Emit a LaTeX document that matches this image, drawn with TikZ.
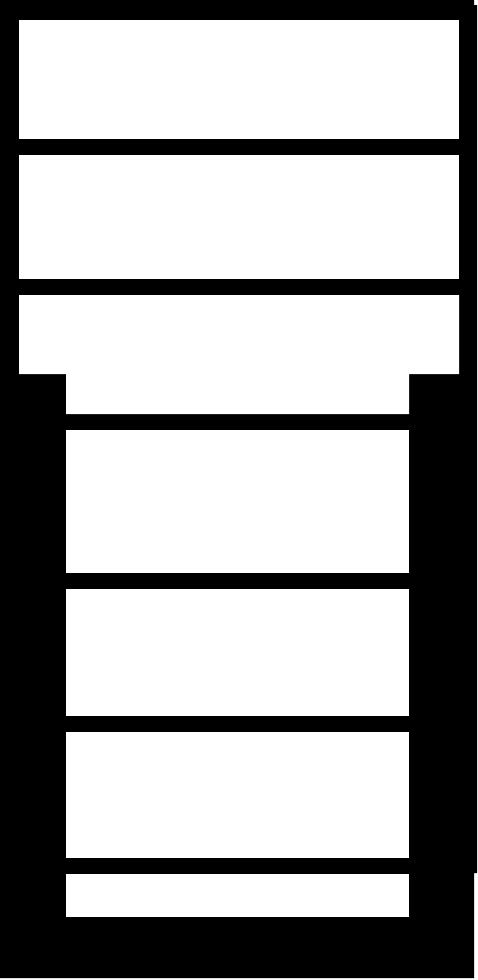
\documentclass[tikz,border=0pt]{standalone}
\begin{document}
\begin{tikzpicture}[x=0.5pt,y=-0.5pt,
  solid/.style={fill=black,draw=none},
  slot/.style={fill=white,draw=none}]
\useasboundingbox (0,0) rectangle (477,980);
\fill[solid] (0,0) -- (474,0) -- (474,5) -- (477,5) -- (477,873) -- (474,873) -- (474,978) -- (0,978) -- cycle;
\fill[slot] (19,20) rectangle (459,139);
\fill[slot] (19,155) rectangle (459,279);
\fill[slot] (19,295) -- (459,295) -- (459,374) -- (409,374) -- (409,414) -- (66,414) -- (66,374) -- (19,374) -- cycle;
\fill[slot] (66,430) rectangle (409,573);
\fill[slot] (66,589) rectangle (409,716);
\fill[slot] (66,732) rectangle (409,858);
\fill[slot] (66,874) rectangle (409,917);
\end{tikzpicture}
\end{document}
